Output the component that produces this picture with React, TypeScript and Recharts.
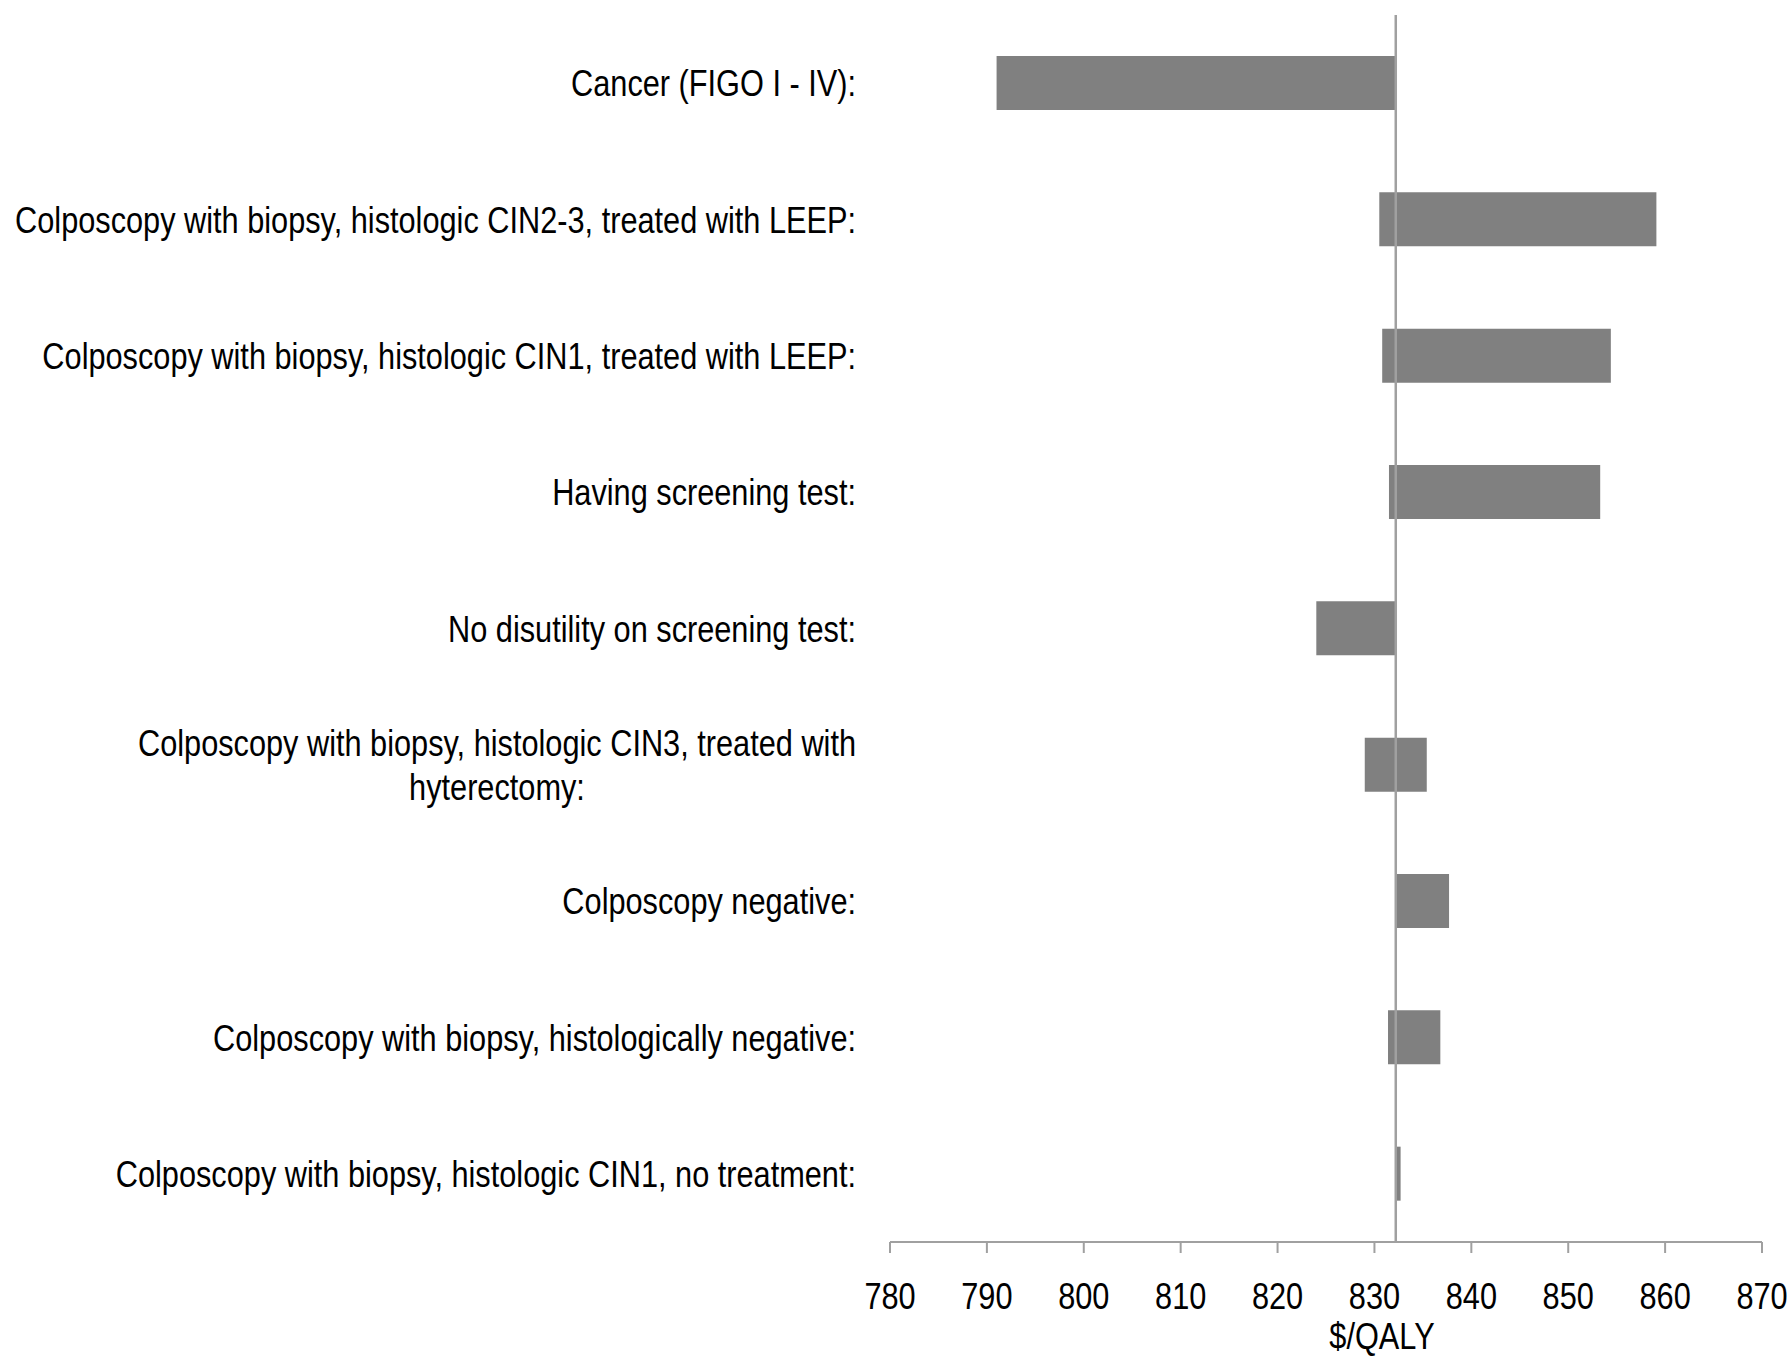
import React from 'react';
import { BarChart, Bar, XAxis, YAxis, ReferenceLine, Label } from 'recharts';

const categories = [
  'Cancer (FIGO I - IV):',
  'Colposcopy with biopsy, histologic CIN2-3, treated with LEEP:',
  'Colposcopy with biopsy, histologic CIN1, treated with LEEP:',
  'Having screening test:',
  'No disutility on screening test:',
  'Colposcopy with biopsy, histologic CIN3, treated with hyterectomy:',
  'Colposcopy negative:',
  'Colposcopy with biopsy, histologically negative:',
  'Colposcopy with biopsy, histologic CIN1, no treatment:',
];
const lowValues = [791.0, 830.5, 830.8, 831.5, 824.0, 829.0, 832.2, 831.4, 832.2];
const highValues = [832.2, 859.1, 854.4, 853.3, 832.2, 835.4, 837.7, 836.8, 832.7];
const baseline = 832.2;
const xTicks = [780, 790, 800, 810, 820, 830, 840, 850, 860, 870];
const xAxisTitle = '$/QALY';

const data = categories.map((name, i) => ({ name, range: [lowValues[i], highValues[i]] }));

const FONT = "'Liberation Sans', Arial, sans-serif";
const FS = 37;
const SX = 0.83;
const GRAY = '#a0a0a0';

let ctx: CanvasRenderingContext2D | null = null;
function measure(text: string): number {
  if (!ctx && typeof document !== 'undefined') {
    ctx = document.createElement('canvas').getContext('2d');
  }
  if (!ctx) return text.length * FS * 0.5;
  ctx.font = `${FS}px "Liberation Sans", Arial, sans-serif`;
  return ctx.measureText(text).width;
}

function wrap(text: string, maxW: number): string[] {
  const words = text.split(' ');
  const lines: string[] = [];
  let cur = '';
  for (const w of words) {
    const t = cur ? cur + ' ' + w : w;
    if (cur && measure(t) > maxW) {
      lines.push(cur);
      cur = w;
    } else {
      cur = t;
    }
  }
  if (cur) lines.push(cur);
  return lines;
}

const YTick = (props: any) => {
  const { x, y, payload } = props;
  const lines = wrap(String(payload.value), 850 / SX);
  const widths = lines.map(measure);
  const maxW = Math.max(...widths);
  const lh = 44;
  const startY = -((lines.length - 1) * lh) / 2;
  return (
    <g transform={`translate(${x - 34},${y}) scale(${SX},1)`}>
      {lines.map((l, i) => (
        <text
          key={i}
          x={lines.length === 1 ? 0 : -maxW / 2}
          y={startY + i * lh}
          dy="0.355em"
          textAnchor={lines.length === 1 ? 'end' : 'middle'}
          fontFamily={FONT}
          fontSize={FS}
          fill="#000"
        >
          {l}
        </text>
      ))}
    </g>
  );
};

const XTick = (props: any) => {
  const { x, y, payload } = props;
  return (
    <g transform={`translate(${x},${y + 43}) scale(${SX},1)`}>
      <text x={0} y={0} dy="0.355em" textAnchor="middle" fontFamily={FONT} fontSize={FS} fill="#000">
        {payload.value}
      </text>
    </g>
  );
};

const XTitle = (props: any) => {
  const vb = props.viewBox || {};
  const cx = vb.x + vb.width / 2 + 56;
  const cy = vb.y + 94;
  return (
    <g transform={`translate(${cx},${cy}) scale(${SX},1)`}>
      <text x={0} y={0} dy="0.355em" textAnchor="middle" fontFamily={FONT} fontSize={FS} fill="#000">
        {xAxisTitle}
      </text>
    </g>
  );
};

export default function App() {
  return (
    <div style={{ width: 1789, height: 1356 }}>
      <style>{'html,body{margin:0;padding:0;overflow:hidden}.recharts-surface{overflow:visible}'}</style>
      <BarChart
        width={1789}
        height={1356}
        data={data}
        layout="vertical"
        margin={{ top: 15, right: 27, bottom: 14, left: 0 }}
        barCategoryGap={0}
      >
        <XAxis
          type="number"
          domain={[780, 870]}
          ticks={xTicks}
          allowDataOverflow
          height={100}
          stroke={GRAY}
          axisLine={{ stroke: GRAY, strokeWidth: 2 }}
          tickLine={{ stroke: GRAY, strokeWidth: 2 }}
          tickSize={11}
          tickMargin={0}
          tick={<XTick />}
          interval={0}
        >
          <Label content={<XTitle />} />
        </XAxis>
        <YAxis
          type="category"
          dataKey="name"
          width={890}
          axisLine={false}
          tickLine={false}
          tickSize={0}
          tickMargin={0}
          interval={0}
          tick={<YTick />}
        />
        <Bar dataKey="range" fill="#808080" barSize={54} isAnimationActive={false} />
        <ReferenceLine x={baseline} stroke={GRAY} strokeWidth={2.5} />
      </BarChart>
    </div>
  );
}
